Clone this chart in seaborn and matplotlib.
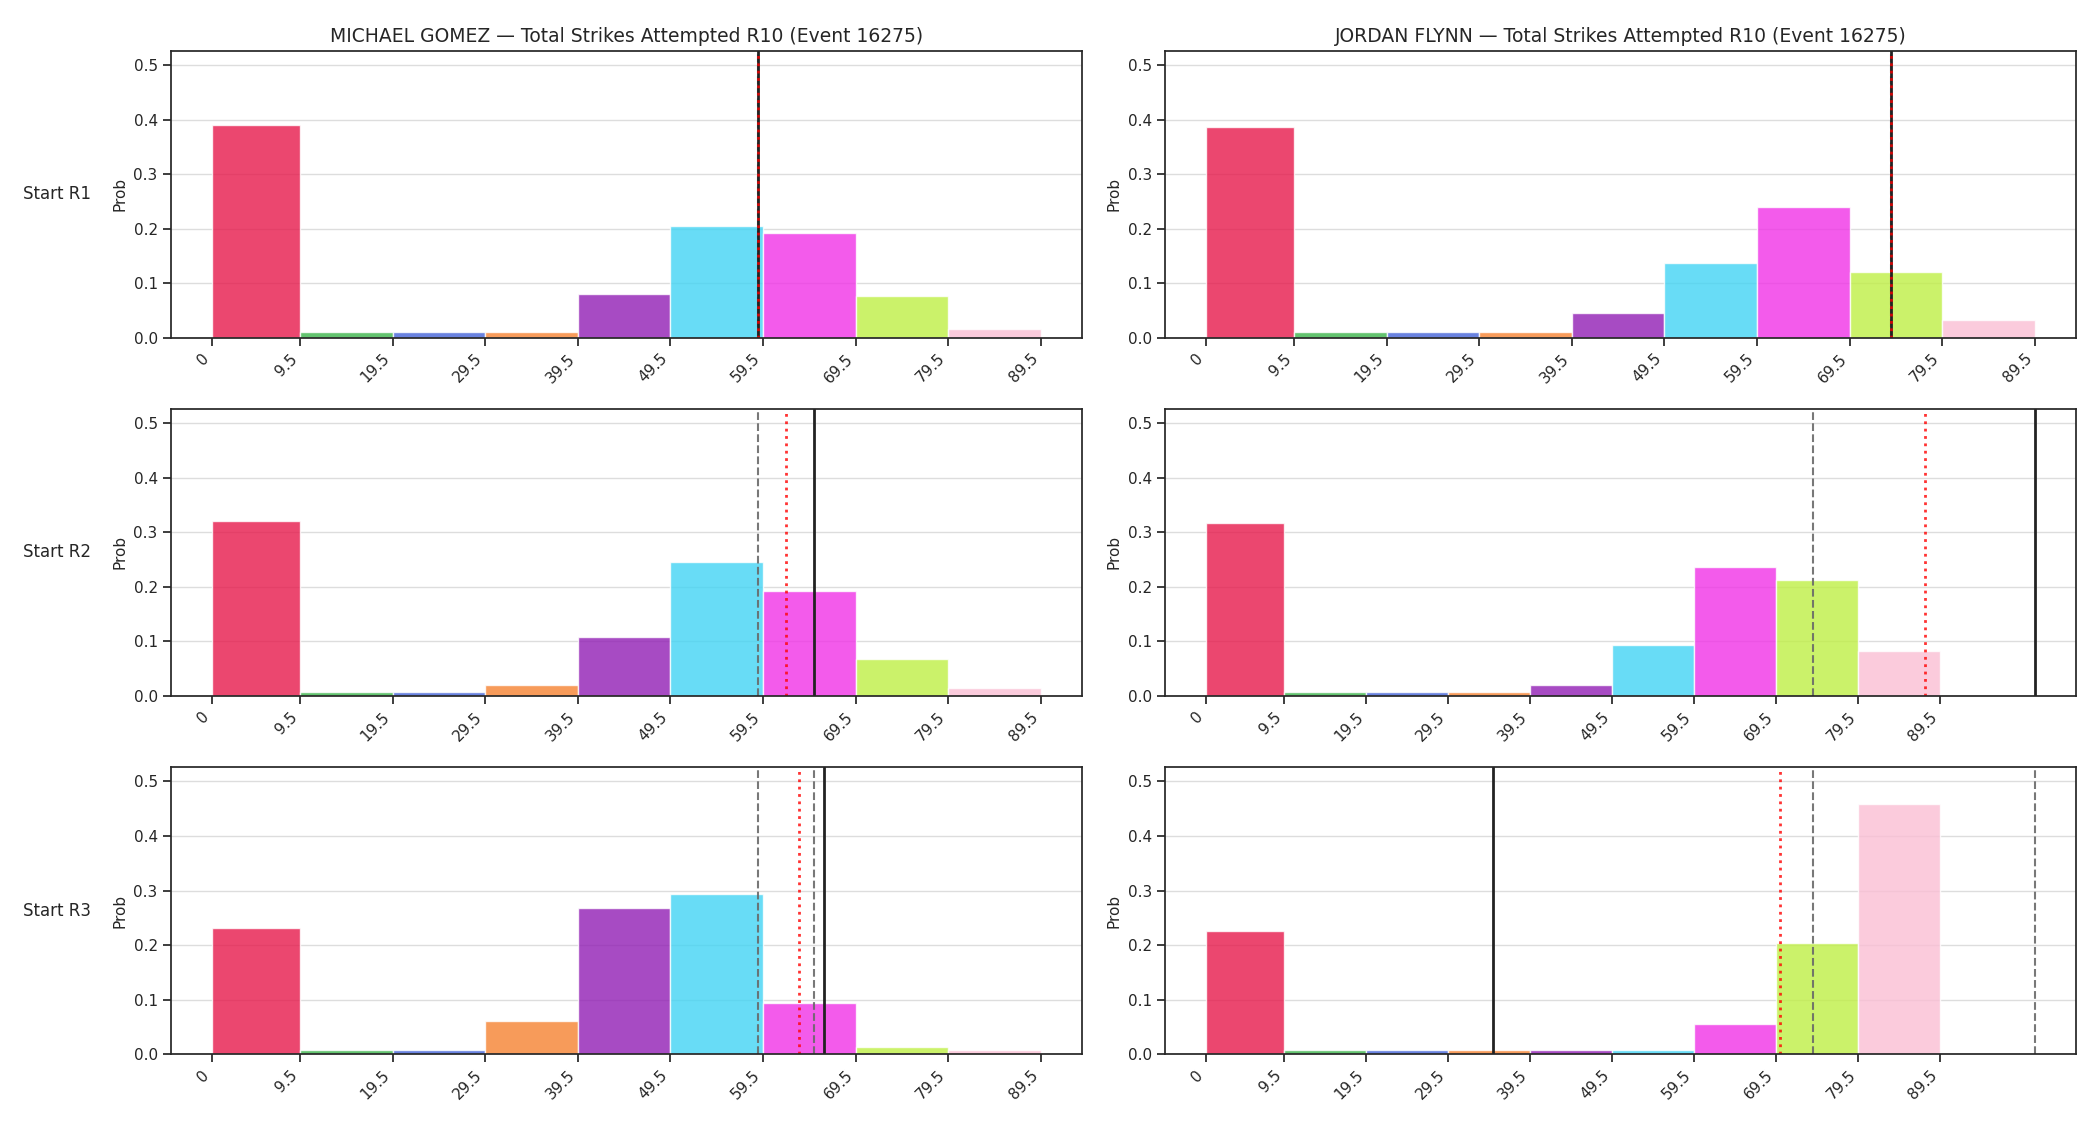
import numpy as np
import seaborn as sns
import matplotlib.pyplot as plt

sns.set_theme(style="ticks", context="notebook")
plt.rcParams["font.family"] = ["DejaVu Sans"]

# bin edges of the strike-count buckets
edges = [0, 9.5, 19.5, 29.5, 39.5, 49.5, 59.5, 69.5, 79.5, 89.5]
tick_labels = ["0", "9.5", "19.5", "29.5", "39.5", "49.5", "59.5", "69.5", "79.5", "89.5"]
palette = ["#e6194B", "#3cb44b", "#4363d8", "#f58231", "#911eb4",
           "#42d4f4", "#f032e6", "#bfef45", "#fabed4"]

fighters = ["MICHAEL GOMEZ", "JORDAN FLYNN"]
rows = ["Start R1", "Start R2", "Start R3"]

# probabilities per bucket, one list per start round
gomez_probs = [
    [0.390, 0.010, 0.010, 0.010, 0.081, 0.205, 0.192, 0.077, 0.016],
    [0.320, 0.008, 0.008, 0.021, 0.108, 0.245, 0.193, 0.068, 0.015],
    [0.232, 0.008, 0.008, 0.061, 0.268, 0.293, 0.093, 0.013, 0.007],
]
flynn_probs = [
    [0.387, 0.010, 0.010, 0.010, 0.045, 0.137, 0.240, 0.120, 0.033],
    [0.318, 0.008, 0.008, 0.008, 0.021, 0.093, 0.237, 0.212, 0.083],
    [0.226, 0.008, 0.008, 0.008, 0.008, 0.008, 0.056, 0.204, 0.458],
]

# reference lines: dashed = line / prior pace, solid = projection, dotted = mean
gomez_dashed = [[59], [59], [59, 65]]
gomez_solid = [59, 65, 66.1]
gomez_mean = [59, 62, 63.4]

flynn_dashed = [[74], [74], [74, 101]]
flynn_solid = [74, 101, 35]
flynn_mean = [74, 87.6, 70]

probs = [gomez_probs, flynn_probs]
dashed = [gomez_dashed, flynn_dashed]
solid = [gomez_solid, flynn_solid]
means = [gomez_mean, flynn_mean]

ymax = max(max(max(p) for p in fp) for fp in probs) * 1.15

fig, axes = plt.subplots(3, 2, figsize=(21, 11.25), dpi=100)
fig.subplots_adjust(left=0.0814, right=0.9886, top=0.955, bottom=0.063,
                    wspace=0.091, hspace=0.247)

widths = np.diff(edges)
for c in range(2):
    for r in range(3):
        ax = axes[r, c]
        ax.bar(edges[:-1], probs[c][r], width=widths, align="edge",
               color=palette, alpha=0.8, edgecolor="white", linewidth=1)
        for v in dashed[c][r]:
            ax.axvline(v, color="dimgray", linestyle="--", linewidth=1.5, alpha=0.9)
        ax.axvline(solid[c][r], color="#222222", linestyle="-", linewidth=2)
        ax.axvline(means[c][r], color="red", linestyle=":", linewidth=2, alpha=0.8)
        ax.set_ylim(0, ymax)
        ax.set_xticks(edges)
        ax.set_xticklabels(tick_labels, rotation=45, ha="right", fontsize=11)
        ax.tick_params(axis="y", labelsize=11)
        ax.set_ylabel("Prob", fontsize=11)
        ax.grid(axis="y", color="#dddddd", linewidth=1)
        if r == 0:
            ax.set_title(f"{fighters[c]} — Total Strikes Attempted R10 (Event 16275)",
                         fontsize=13.5)
        if c == 0:
            pos = ax.get_position()
            fig.text(0.011, (pos.y0 + pos.y1) / 2, rows[r], ha="left", va="center",
                     fontsize=12)

plt.savefig("out.png", dpi=100)
